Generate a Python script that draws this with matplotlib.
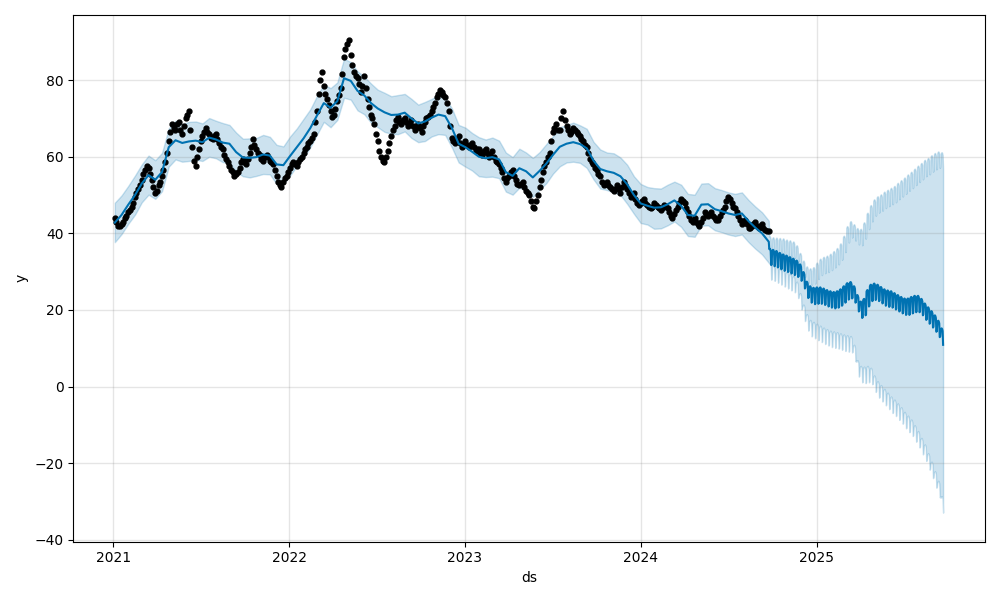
import matplotlib
matplotlib.use("Agg")
import matplotlib.pyplot as plt
import pandas as pd

# observed values, one per week on Mondays starting 2021-01-04
obs_2021 = [44.0, 42.0, 42.5, 44.0, 45.5, 47.0, 49.5, 51.5, 54.0, 56.5,
            57.0, 54.0, 50.5, 52.5, 55.0, 58.5, 64.0, 68.5, 67.0, 69.0,
            66.0, 70.0, 72.0, 62.5, 57.5, 62.0, 65.5, 67.5, 66.0, 64.5,
            66.0, 63.5, 62.0, 59.5, 57.5, 56.0, 55.5, 57.0, 59.5, 58.0,
            61.0, 64.5, 62.0, 60.5, 59.0, 60.5, 59.0, 58.0, 55.0, 52.5,
            53.5, 55.0]
obs_2022 = [57.0, 58.5, 57.5, 59.5, 61.0, 62.5, 64.0, 66.0, 72.0, 80.0,
            78.5, 75.0, 72.0, 71.0, 74.5, 78.0, 86.0, 89.5, 86.5, 82.0,
            80.5, 77.0, 81.0, 75.0, 71.0, 68.5, 64.0, 60.0, 58.5, 61.5,
            65.5, 68.0, 70.5, 68.5, 70.0, 68.0, 69.5, 67.0, 68.5, 66.5,
            69.0, 70.5, 72.0, 74.0, 76.5, 77.0, 75.5, 72.0, 65.0, 63.5,
            65.5, 62.5]
obs_2023 = [64.0, 62.5, 63.5, 61.5, 62.0, 60.5, 62.0, 60.0, 61.5, 59.0,
            58.0, 56.0, 53.5, 55.0, 56.5, 54.0, 52.5, 53.5, 51.0, 50.0,
            47.0, 48.5, 52.0, 56.0, 58.5, 61.0, 66.5, 68.5, 67.0, 72.0,
            68.0, 66.0, 67.5, 66.5, 65.5, 64.0, 62.5, 59.5, 58.0, 56.5,
            55.0, 52.5, 53.5, 52.0, 51.0, 52.5, 50.5, 53.5, 51.5, 49.5,
            50.5, 48.0]
obs_2024 = [48.0, 49.0, 47.5, 46.5, 48.0, 47.0, 46.0, 47.5, 46.5, 44.5,
            45.0, 47.0, 49.0, 48.0, 45.5, 43.5, 44.0, 42.5, 43.0, 45.5,
            44.5, 45.5, 44.0, 43.5, 45.5, 47.0, 49.5, 48.0, 46.5, 44.5,
            42.5, 43.5, 41.5, 42.0, 43.0, 41.5, 42.5, 41.0, 40.5]

# observed values on the Thursday of each week
mid_2021 = [43.0, 41.8, 43.0, 44.5, 46.0, 48.0, 50.5, 52.5, 55.5, 57.5,
            55.5, 52.0, 51.0, 53.5, 56.5, 61.0, 66.5, 67.5, 68.5, 67.0,
            68.0, 71.0, 67.0, 59.0, 60.0, 64.0, 66.5, 66.5, 65.0, 65.5,
            64.5, 62.5, 60.5, 58.5, 56.5, 55.0, 56.0, 58.5, 58.5, 59.5,
            62.5, 63.0, 61.0, 59.5, 60.0, 60.0, 58.5, 56.5, 53.5, 52.0,
            54.5, 56.0]
mid_2022 = [58.0, 58.0, 58.5, 60.0, 62.0, 63.5, 65.0, 69.0, 76.5, 82.0,
            76.5, 73.5, 70.5, 72.5, 76.0, 81.5, 88.0, 90.5, 84.0, 81.0,
            79.0, 78.5, 78.0, 73.0, 70.0, 66.0, 61.5, 59.0, 60.0, 63.5,
            67.0, 69.5, 69.0, 69.5, 69.0, 68.5, 68.0, 68.0, 67.5, 68.0,
            70.0, 71.0, 73.0, 75.5, 77.5, 76.0, 74.0, 68.0, 64.0, 64.5,
            63.5, 63.0]
mid_2023 = [63.0, 63.0, 62.5, 62.0, 61.0, 61.5, 61.0, 60.5, 60.0, 58.5,
            57.0, 54.5, 54.5, 56.0, 55.0, 53.0, 53.0, 52.0, 50.5, 48.5,
            46.5, 50.0, 54.0, 57.5, 60.0, 64.0, 67.5, 67.0, 70.0, 69.5,
            67.0, 66.5, 67.0, 66.0, 64.5, 63.0, 61.0, 58.5, 57.0, 55.5,
            53.5, 53.0, 52.5, 51.5, 51.5, 51.5, 52.0, 52.5, 50.5, 50.0,
            49.0, 47.5]
mid_2024 = [48.5, 48.0, 47.0, 47.0, 47.5, 46.5, 46.5, 47.0, 45.5, 44.0,
            46.0, 48.0, 48.5, 46.5, 44.5, 43.0, 43.0, 42.0, 44.0, 45.0,
            45.0, 44.5, 43.5, 44.5, 46.0, 48.5, 49.0, 47.0, 45.5, 43.5,
            43.0, 42.5, 41.5, 42.5, 42.0, 42.0, 41.5, 40.5]

# fitted values over the history, every two weeks
yhat_fit = [42.8, 44.8, 47.5, 50.0, 53.0, 55.2, 54.0, 56.0, 62.5, 64.3,
            63.6, 64.0, 64.2, 63.8, 65.0, 64.5, 63.7, 63.4, 61.2, 59.8,
            59.7, 59.9, 60.6, 60.3, 58.0, 57.8, 60.2, 62.5, 64.8, 67.5,
            70.8, 74.0, 72.8, 74.5, 80.5, 79.8, 77.2, 76.0, 74.0, 72.6,
            71.6, 70.9, 71.0, 71.5, 70.0, 68.7, 69.2, 70.2, 71.0, 70.6,
            67.5, 63.4, 62.5, 61.3, 60.0, 59.6, 59.9, 59.3, 56.0, 55.0,
            57.0, 56.2, 54.6, 56.3, 58.2, 60.5, 62.6, 63.4, 63.8, 63.3,
            62.2, 59.0, 56.8, 56.2, 55.8, 54.9, 52.8, 50.0, 47.8, 47.2,
            46.7, 46.8, 47.6, 48.6, 47.2, 44.8, 44.6, 47.5, 47.6, 46.3,
            45.8, 45.2, 44.8, 45.2, 43.2, 41.5, 40.0, 37.8]
upper_fit = [48.0, 49.9, 52.4, 55.1, 58.0, 60.3, 59.1, 61.0, 67.4, 69.4,
             68.5, 69.1, 69.2, 68.7, 70.1, 69.4, 68.8, 68.3, 66.3, 64.7,
             64.8, 64.9, 65.7, 65.2, 63.1, 62.7, 65.3, 67.4, 69.9, 72.4,
             75.9, 78.9, 77.9, 79.4, 85.6, 84.7, 82.3, 80.9, 79.1, 77.5,
             76.7, 75.8, 76.1, 76.4, 75.1, 73.6, 74.3, 75.1, 76.1, 75.5,
             72.6, 68.3, 67.6, 66.2, 65.1, 64.5, 65.0, 64.2, 61.1, 59.9,
             62.1, 61.1, 59.7, 61.2, 63.3, 65.4, 67.7, 68.3, 68.9, 68.2,
             67.3, 63.9, 61.9, 61.1, 60.9, 59.8, 57.9, 54.9, 52.9, 52.1,
             51.8, 51.7, 52.7, 53.5, 52.7, 50.3, 50.1, 53.0, 53.1, 51.8,
             51.3, 50.7, 50.3, 50.7, 48.7, 47.0, 45.5, 43.3]
lower_fit = [37.7, 39.8, 42.5, 44.9, 48.1, 50.1, 49.0, 51.0, 57.4, 59.3,
             58.7, 58.9, 59.2, 58.9, 60.0, 59.6, 58.6, 58.5, 56.1, 54.9,
             54.6, 55.0, 55.5, 55.4, 52.9, 52.9, 55.1, 57.6, 59.7, 62.5,
             65.8, 69.1, 67.7, 69.6, 75.4, 74.9, 72.1, 71.1, 68.9, 67.7,
             66.5, 66.0, 65.9, 66.6, 64.9, 63.8, 64.1, 65.3, 65.9, 65.7,
             62.4, 58.5, 57.4, 56.4, 54.9, 54.7, 54.8, 54.4, 50.9, 50.1,
             51.9, 51.3, 49.5, 51.4, 53.1, 55.6, 57.5, 58.5, 58.7, 58.4,
             57.1, 54.1, 51.7, 51.3, 50.7, 50.0, 47.7, 45.1, 42.7, 42.3,
             41.2, 41.3, 42.1, 43.1, 41.7, 39.3, 39.1, 42.0, 42.1, 40.8,
             40.3, 39.7, 39.3, 39.7, 37.7, 36.0, 34.5, 32.3]

# forecast, weekday level per week starting Monday 2024-09-23
fc_mid = [35.6, 35.3, 35.0, 34.5, 34.1, 33.8, 33.4, 33.0, 32.5, 31.5,
          29.5, 27.0, 25.8, 25.4, 25.5, 25.5, 25.2, 24.8, 24.5, 24.3,
          24.5, 25.0, 25.8, 26.6, 26.9, 25.8, 23.5, 21.8, 22.5, 24.8,
          26.2, 26.5, 26.2, 25.6, 25.0, 24.7, 24.5, 24.0, 23.5, 23.0,
          22.6, 22.6, 23.0, 23.3, 23.3, 22.5, 21.3, 20.3, 19.3, 18.2,
          16.8, 14.8, 13.5]
fc_upper = [38.8, 38.6, 38.5, 38.4, 38.3, 38.0, 37.8, 37.5, 36.5, 34.5,
            32.5, 31.0, 30.5, 30.8, 32.0, 33.0, 33.5, 33.8, 34.3, 35.0,
            35.8, 37.0, 39.0, 41.5, 42.8, 42.0, 41.0, 40.8, 42.5, 45.0,
            47.0, 48.5, 49.3, 49.8, 50.5, 51.0, 51.5, 52.0, 52.8, 53.5,
            54.2, 55.0, 55.7, 56.5, 57.3, 58.0, 58.8, 59.3, 60.0, 60.6,
            61.0, 60.8, 60.5]
fc_lower = [31.8, 31.5, 31.0, 30.5, 30.0, 29.5, 29.0, 28.5, 27.0, 24.0,
            21.0, 18.5, 17.0, 16.5, 16.0, 15.5, 15.0, 14.6, 14.2, 14.0,
            13.8, 13.5, 13.2, 13.0, 12.8, 10.5, 6.5, 5.0, 4.8, 5.0,
            4.5, 2.5, 1.0, 0.0, -1.0, -2.0, -3.0, -3.8, -4.8, -5.8,
            -7.0, -8.0, -9.0, -10.5, -12.0, -13.8, -15.5, -17.8, -20.0, -22.5,
            -25.0, -29.0, -31.0]
# day-of-week shift seen in the forecast (Mon..Sun)
week_shape = [0.0, 0.3, 0.4, 0.2, -0.3, -3.9, -3.7]
fc_end = pd.Timestamp('2025-09-20')

obs = obs_2021 + obs_2022 + obs_2023 + obs_2024
obs_dates = pd.date_range('2021-01-04', periods=len(obs), freq='7D')
mid = mid_2021 + mid_2022 + mid_2023 + mid_2024
mid_dates = pd.date_range('2021-01-07', periods=len(mid), freq='7D')
fit_dates = pd.date_range('2021-01-04', periods=len(yhat_fit), freq='14D')
hist_end = fit_dates[-1]

fc_days, fc_y, fc_lo, fc_hi = [], [], [], []
week_starts = pd.date_range('2024-09-23', periods=len(fc_mid), freq='7D')
for i, ws in enumerate(week_starts):
    for d in range(7):
        day = ws + pd.Timedelta(days=d)
        if day <= hist_end or day > fc_end:
            continue
        fc_days.append(day)
        fc_y.append(fc_mid[i] + week_shape[d])
        fc_lo.append(fc_lower[i] + week_shape[d])
        fc_hi.append(fc_upper[i] + week_shape[d])

line_x = list(fit_dates) + fc_days
line_y = yhat_fit + fc_y
band_lo = lower_fit + fc_lo
band_hi = upper_fit + fc_hi

fig = plt.figure(facecolor='w', figsize=(10, 6))
ax = fig.add_subplot(111)
ax.plot(list(obs_dates) + list(mid_dates), obs + mid, 'k.', markersize=7)
ax.plot(line_x, line_y, ls='-', c='#0072B2')
ax.fill_between(line_x, band_lo, band_hi, color='#0072B2', alpha=0.2)
ax.grid(True, which='major', c='gray', ls='-', lw=1, alpha=0.2)
ax.set_xlabel('ds')
ax.set_ylabel('y')
ax.set_xlim(pd.Timestamp('2020-10-10'), pd.Timestamp('2025-12-16'))
ax.set_ylim(-40.5, 97)
fig.tight_layout()
fig.savefig('out.png', dpi=100)
